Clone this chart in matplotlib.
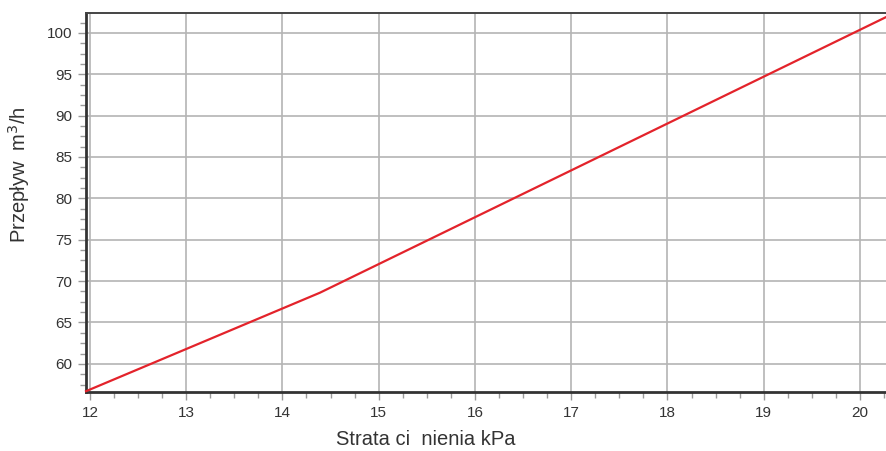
import numpy as np
import matplotlib.pyplot as plt
from matplotlib.ticker import MultipleLocator

plt.rcParams['font.family'] = ['Liberation Sans', 'DejaVu Sans']

# dane
strata_kpa = [11.96, 14.39, 20.27]
przeplyw = [56.7, 68.6, 101.9]
x_ticks = [12, 13, 14, 15, 16, 17, 18, 19, 20]
y_ticks = [60, 65, 70, 75, 80, 85, 90, 95, 100]

fig = plt.figure(figsize=(8.86, 4.51), dpi=100)
ax = fig.add_axes([0.0971, 0.1308, 0.9029, 0.8404])

ax.plot(strata_kpa, przeplyw, color="#e3232b", linewidth=1.6, zorder=3,
        clip_on=False)

ax.set_xlim(11.96, 20.27)
ax.set_ylim(56.6, 102.4)
ax.set_xticks(x_ticks)
ax.set_yticks(y_ticks)
ax.xaxis.set_minor_locator(MultipleLocator(0.25))
ax.yaxis.set_minor_locator(MultipleLocator(1.25))

ax.grid(True, which="major", color="#b4b4b4", linewidth=1.2)
ax.set_axisbelow(True)

for side in ["left", "bottom"]:
    ax.spines[side].set_linewidth(2.0)
    ax.spines[side].set_color("#333333")
ax.spines["top"].set_linewidth(1.4)
ax.spines["top"].set_color("#444444")
ax.spines["right"].set_visible(False)

ax.tick_params(which="major", length=6, width=1, color="#9a9a9a",
               labelsize=11, labelcolor="#333333", pad=4)
ax.tick_params(which="minor", length=4, width=1, color="#9a9a9a")

# opisy osi ustawione jak na oryginale (nie w środku osi)
fig.text(0.4808, 0.0244, "Strata ci  nienia kPa", fontsize=14.5,
         color="#333333", ha="center", va="center")
fig.text(0.021, 0.612, "Przepływ  m$^3$/h", fontsize=14.5, color="#333333",
         ha="center", va="center", rotation=90)

plt.savefig("out.png", dpi=100)
